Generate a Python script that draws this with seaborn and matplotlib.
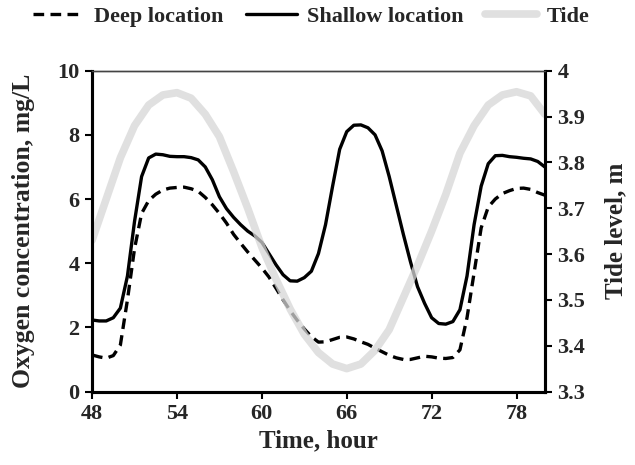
import numpy as np
import pandas as pd
import seaborn as sns
import matplotlib
matplotlib.use('Agg')
import matplotlib.pyplot as plt
from matplotlib.ticker import FuncFormatter

# oxygen readings every half hour, 48 to 80 h
o2_time = [48.0 + 0.5 * i for i in range(65)]
deep = [1.14, 1.08, 1.04, 1.12, 1.45, 2.86, 4.45, 5.55, 5.95, 6.15,
        6.28, 6.34, 6.36, 6.37, 6.32, 6.24, 6.05, 5.82, 5.55, 5.25,
        4.90, 4.62, 4.35, 4.10, 3.85, 3.57, 3.22, 2.86, 2.52, 2.22,
        1.95, 1.71, 1.54, 1.55, 1.62, 1.69, 1.70, 1.64, 1.55, 1.47,
        1.35, 1.24, 1.13, 1.05, 1.00, 1.00, 1.05, 1.10, 1.08, 1.04,
        1.03, 1.06, 1.30, 2.30, 3.70, 5.10, 5.75, 6.00, 6.17, 6.26,
        6.33, 6.34, 6.30, 6.20, 6.12]
shallow = [2.23, 2.20, 2.20, 2.30, 2.60, 3.60, 5.30, 6.70, 7.28, 7.40,
           7.38, 7.33, 7.32, 7.32, 7.29, 7.22, 7.00, 6.60, 6.07, 5.70,
           5.43, 5.20, 5.00, 4.85, 4.65, 4.30, 3.95, 3.64, 3.45, 3.44,
           3.55, 3.75, 4.30, 5.20, 6.40, 7.55, 8.10, 8.30, 8.31, 8.22,
           8.00, 7.50, 6.70, 5.80, 4.90, 4.05, 3.27, 2.75, 2.30, 2.12,
           2.10, 2.18, 2.55, 3.60, 5.20, 6.40, 7.10, 7.35, 7.36, 7.32,
           7.30, 7.27, 7.25, 7.17, 7.00]

# tide level every hour
tide_time = list(range(48, 81))
tide = [3.63, 3.72, 3.81, 3.88, 3.925, 3.947, 3.952, 3.94, 3.905, 3.856,
        3.78, 3.70, 3.615, 3.545, 3.48, 3.425, 3.385, 3.36, 3.35, 3.36,
        3.39, 3.435, 3.505, 3.575, 3.65, 3.73, 3.82, 3.88, 3.925, 3.947,
        3.954, 3.945, 3.905]

x_ticks = [48, 54, 60, 66, 72, 78]

df = pd.DataFrame({'Time': o2_time, 'Deep location': deep, 'Shallow location': shallow})
tdf = pd.DataFrame({'Time': tide_time, 'Tide': tide})

sns.set_theme(style='ticks')
plt.rcParams['font.family'] = ['Liberation Serif', 'DejaVu Serif']
plt.rcParams['font.weight'] = 'bold'
plt.rcParams['axes.labelweight'] = 'bold'
plt.rcParams['lines.solid_joinstyle'] = 'round'
plt.rcParams['lines.dash_joinstyle'] = 'round'

fig = plt.figure(figsize=(6.35, 4.65), dpi=100)
ax = fig.add_axes([0.145, 0.158, 0.713, 0.69])
ax2 = ax.twinx()

sns.lineplot(x='Time', y='Deep location', data=df, ax=ax, color='black',
             lw=2.4, label='Deep location', legend=False)
ax.lines[-1].set_dashes((3.2, 1.9))
sns.lineplot(x='Time', y='Shallow location', data=df, ax=ax, color='black',
             lw=2.4, label='Shallow location', legend=False)
sns.lineplot(x='Time', y='Tide', data=tdf, ax=ax2, color='#d6d6d6', alpha=0.75,
             lw=5.5, label='Tide', legend=False)

ax.set_xlim(48, 80)
ax.set_ylim(0, 10)
ax2.set_ylim(3.3, 4.0)
ax.set_xticks(x_ticks)
ax.set_yticks(range(0, 11, 2))
ax2.set_yticks([3.3, 3.4, 3.5, 3.6, 3.7, 3.8, 3.9, 4.0])
ax2.yaxis.set_major_formatter(FuncFormatter(lambda v, p: '%g' % round(v, 1)))

ax.set_xlabel('Time, hour', fontsize=18, labelpad=4)
ax.set_ylabel('Oxygen concentration, mg/L', fontsize=18.5, labelpad=16)
ax2.set_ylabel('Tide level, m', fontsize=18, labelpad=14)

for a in (ax, ax2):
    a.tick_params(axis='both', labelsize=16, width=1.5, length=5, direction='out',
                  color='black', pad=4)
    for s in a.spines.values():
        s.set_linewidth(2.2)
        s.set_color('black')
    a.spines['top'].set_linewidth(1.0)
    a.spines['top'].set_color('#444444')
    for t in a.get_xticklabels() + a.get_yticklabels():
        t.set_fontweight('bold')

h1, l1 = ax.get_legend_handles_labels()
h2, l2 = ax2.get_legend_handles_labels()
fig.legend(h1 + h2, l1 + l2, loc='upper center', bbox_to_anchor=(0.49, 1.03),
           ncol=3, frameon=False, handlelength=2.3,
           columnspacing=1.0, handletextpad=0.45, prop={'weight': 'bold', 'size': 16})

fig.savefig('out.png', dpi=100)
